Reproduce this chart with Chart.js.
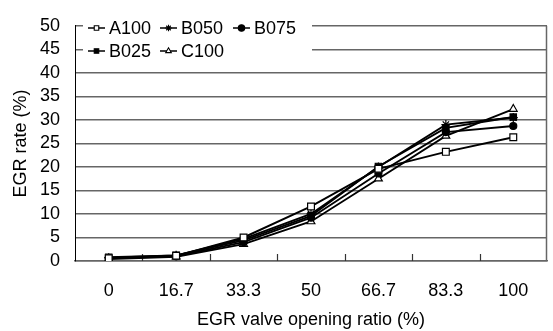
<!DOCTYPE html>
<html>
<head>
<meta charset="utf-8">
<script src="https://cdn.jsdelivr.net/npm/chart.js@4/dist/chart.umd.min.js"></script>
<style>
html,body{margin:0;padding:0;background:#fff;}
canvas{display:block;}
</style>
</head>
<body>
<canvas id="c" width="553" height="331"></canvas>
<script>
const categories = ['0', '16.7', '33.3', '50', '66.7', '83.3', '100'];
const A100 = [0.6, 1.1, 5.0, 11.6, 19.6, 23.2, 26.3];
const B050 = [0.7, 1.2, 4.7, 10.0, 20.0, 29.0, 30.5];
const B075 = [0.6, 1.0, 4.0, 9.2, 18.6, 27.4, 28.7];
const B025 = [0.8, 1.2, 4.4, 9.6, 20.1, 28.3, 30.6];
const C100 = [0.4, 0.9, 3.6, 8.4, 17.5, 26.6, 32.3];
const yTicks = [0, 5, 10, 15, 20, 25, 30, 35, 40, 45, 50];

const FONT = "'Liberation Sans', Arial, sans-serif";
Chart.defaults.font.family = FONT;
Chart.defaults.color = '#000';

function ds(label, data, style, fill, radius) {
  return {
    label, data,
    borderColor: '#000', borderWidth: 1.9,
    pointStyle: style, pointRadius: radius, pointHoverRadius: radius,
    pointBackgroundColor: fill, pointBorderColor: '#000', pointBorderWidth: 1.2,
    tension: 0, fill: false
  };
}

const datasets = [
  ds('A100', A100, 'rect', '#fff', 4.8),
  ds('B050', B050, 'star', '#000', 4.5),
  ds('B075', B075, 'circle', '#000', 3.5),
  ds('B025', B025, 'rect', '#000', 4.5),
  ds('C100', C100, 'triangle', '#fff', 4.5)
];

function marker(ctx, style, fill, x, y, r) {
  ctx.save();
  ctx.fillStyle = fill; ctx.strokeStyle = '#000'; ctx.lineWidth = 1.1;
  ctx.beginPath();
  if (style === 'rect') {
    const s = r * Math.SQRT1_2;
    ctx.rect(x - s, y - s, 2 * s, 2 * s); ctx.fill(); ctx.stroke();
  } else if (style === 'circle') {
    ctx.arc(x, y, r, 0, Math.PI * 2); ctx.fill(); ctx.stroke();
  } else if (style === 'triangle') {
    ctx.moveTo(x, y - r); ctx.lineTo(x + r * 0.866, y + r * 0.5); ctx.lineTo(x - r * 0.866, y + r * 0.5);
    ctx.closePath(); ctx.fill(); ctx.stroke();
  } else if (style === 'star') {
    for (let k = 0; k < 4; k++) {
      const a = k * Math.PI / 4;
      ctx.moveTo(x - r * Math.cos(a), y - r * Math.sin(a));
      ctx.lineTo(x + r * Math.cos(a), y + r * Math.sin(a));
    }
    ctx.stroke();
  }
  ctx.restore();
}

const legendLayout = [
  {i: 0, x: 88, y: 28}, {i: 1, x: 160, y: 28}, {i: 2, x: 233, y: 28},
  {i: 3, x: 88, y: 51}, {i: 4, x: 160, y: 51}
];

const decor = {
  id: 'decor',
  beforeDatasetsDraw(chart) {
    const {ctx, chartArea: ca, scales} = chart;
    const xs = scales.x;
    ctx.save();
    ctx.strokeStyle = '#666'; ctx.lineWidth = 1.5;
    ctx.beginPath(); ctx.moveTo(ca.right - 0.5, ca.top); ctx.lineTo(ca.right - 0.5, ca.bottom); ctx.stroke();
    ctx.strokeStyle = '#333'; ctx.lineWidth = 1.2;
    for (let i = 0; i < categories.length - 1; i++) {
      const px = Math.round((xs.getPixelForValue(i) + xs.getPixelForValue(i + 1)) / 2) + 0.5;
      ctx.beginPath(); ctx.moveTo(px, ca.bottom); ctx.lineTo(px, ca.bottom - 7); ctx.stroke();
    }
    ctx.fillStyle = '#fff';
    ctx.fillRect(83, 15, 229, 46);
    ctx.font = '18px ' + FONT;
    ctx.textBaseline = 'middle'; ctx.textAlign = 'left';
    legendLayout.forEach(item => {
      const d = chart.data.datasets[item.i];
      ctx.strokeStyle = '#000'; ctx.lineWidth = 1.5;
      ctx.beginPath(); ctx.moveTo(item.x, item.y); ctx.lineTo(item.x + 17, item.y); ctx.stroke();
      marker(ctx, d.pointStyle, d.pointBackgroundColor, item.x + 8.5, item.y, 3.2);
      ctx.fillStyle = '#000';
      ctx.fillText(d.label, item.x + 21, item.y + 1);
    });
    ctx.restore();
  }
};

new Chart(document.getElementById('c'), {
  type: 'line',
  data: {labels: categories, datasets},
  options: {
    responsive: false,
    animation: false,
    devicePixelRatio: 1,
    layout: {padding: {top: 13, right: 2, left: 0, bottom: 0}},
    plugins: {legend: {display: false}, tooltip: {enabled: false}},
    scales: {
      x: {
        type: 'category',
        offset: true,
        grid: {drawOnChartArea: false, drawTicks: false},
        border: {color: '#666', width: 1.5},
        ticks: {font: {size: 18}, color: '#000', padding: 19, maxRotation: 0, autoSkip: false},
        title: {display: true, text: 'EGR valve opening ratio (%)', font: {size: 18}, color: '#000', padding: {top: 0, bottom: 0}},
        afterFit(s) { s.height = 70; }
      },
      y: {
        min: 0, max: 50,
        afterBuildTicks(s) { s.ticks = yTicks.map(v => ({value: v})); },
        grid: {color: '#666', lineWidth: 1.5, drawTicks: false},
        border: {color: '#000', width: 1},
        ticks: {font: {size: 18}, color: '#000', padding: 15, autoSkip: false, stepSize: 5},
        title: {display: true, text: 'EGR rate (%)', font: {size: 18}, color: '#000', padding: {top: 10, bottom: 0}},
        afterFit(s) { s.width = 75; }
      }
    }
  },
  plugins: [decor]
});
</script>
</body>
</html>
